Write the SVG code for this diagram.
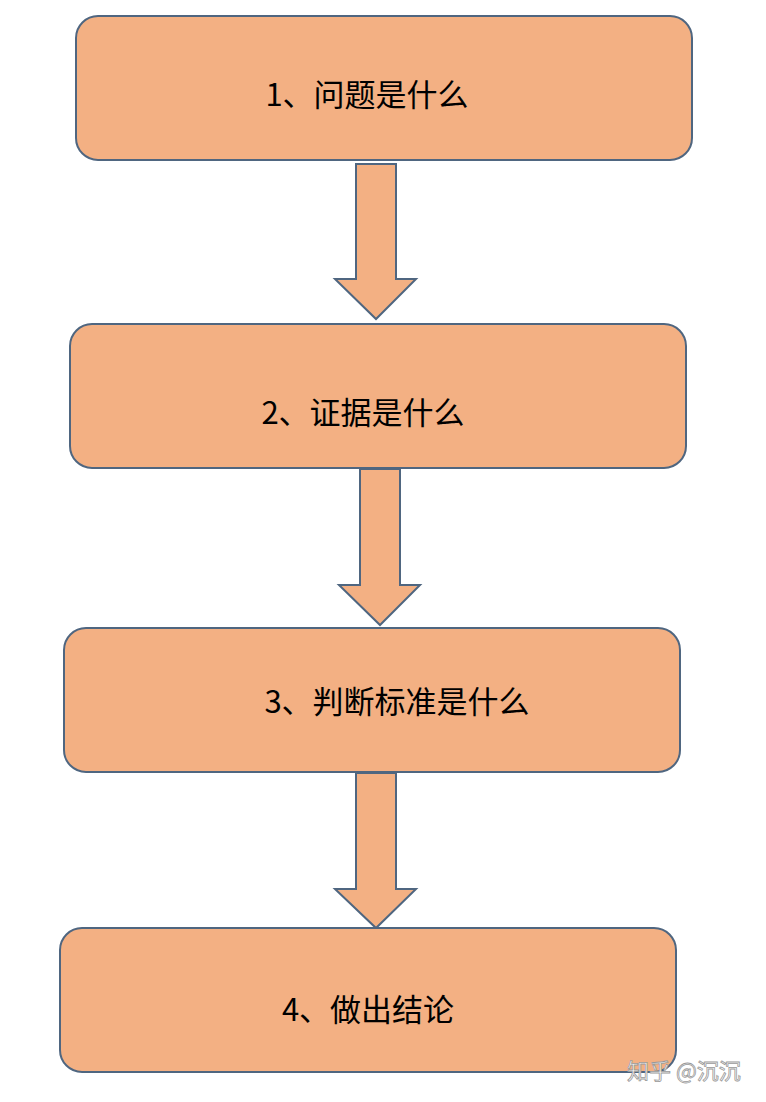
<svg xmlns="http://www.w3.org/2000/svg" width="766" height="1102" viewBox="0 0 766 1102">
<style>
.box{fill:#f3b083;stroke:#4f6680;stroke-width:2}
.arr{fill:#f3b083;stroke:#4f6680;stroke-width:2;stroke-linejoin:miter}
.t{font-family:"Noto Sans CJK SC","Noto Sans",sans-serif;font-size:31px;fill:#000;text-anchor:middle;dominant-baseline:central}
.wm{font-family:"Noto Sans CJK SC",sans-serif;font-size:22px;fill:#fff;stroke:#999;stroke-width:0.8}
</style>
<rect width="766" height="1102" fill="#fff"/>
<g id="connectors">
<path class="arr" d="M356 164H396V279H416L376 319L335 279H356Z"/>
<path class="arr" d="M360 469H400V585H420L380 625L339 585H360Z"/>
<path class="arr" d="M356 773H396V889H416L376 928L335 889H356Z"/>
</g>
<g id="n1"><rect class="box" x="76" y="16" width="616" height="144" rx="22"/><text class="t" x="367" y="92">1、问题是什么</text></g>
<g id="n2"><rect class="box" x="70" y="324" width="616" height="144" rx="22"/><text class="t" x="363" y="410">2、证据是什么</text></g>
<g id="n3"><rect class="box" x="64" y="628" width="616" height="144" rx="22"/><text class="t" x="397" y="699">3、判断标准是什么</text></g>
<g id="n4"><rect class="box" x="60" y="928" width="616" height="144" rx="22"/><text class="t" x="368" y="1007">4、做出结论</text></g>
<text class="wm" x="627" y="1079">知乎 @沉沉</text>
</svg>
